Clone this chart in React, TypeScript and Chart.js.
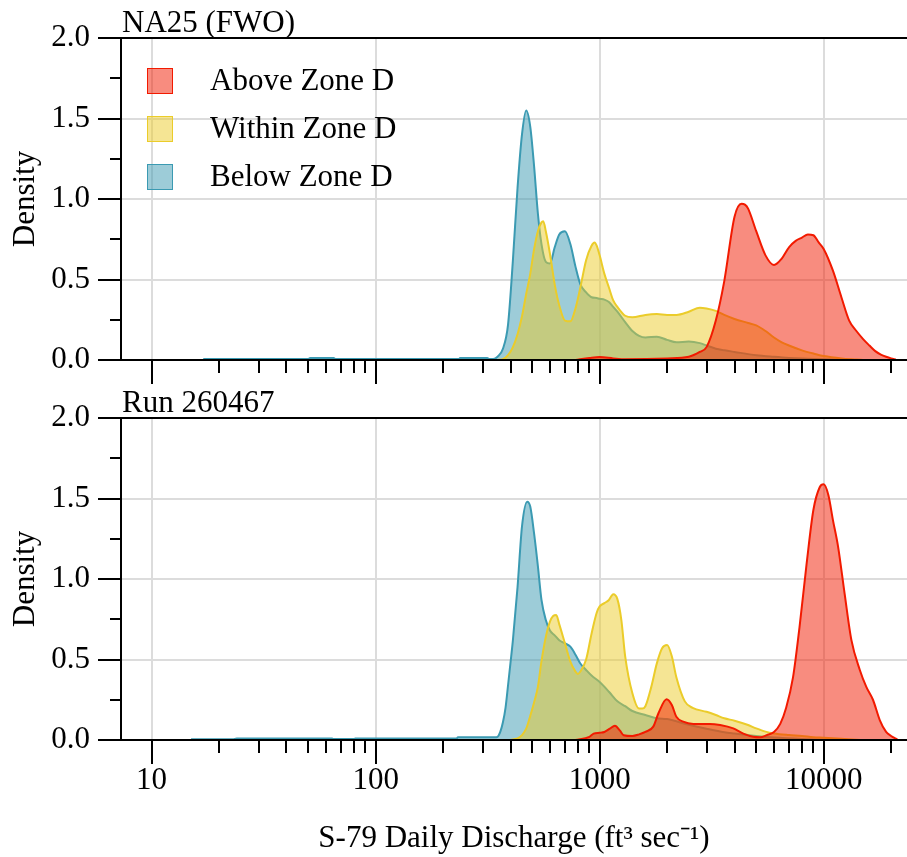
import React, { useEffect, useRef } from "react";
import { Chart, registerables } from "chart.js";

Chart.register(...registerables);

// ---------------- data ----------------
const seriesLabels = ["Above Zone D", "Within Zone D", "Below Zone D"];
const lineColors = ["#F21A00", "#EBCC2A", "#3B9AB2"];
const fillColors = ["rgba(242,26,0,0.5)", "rgba(235,204,42,0.5)", "rgba(59,154,178,0.5)"];
const panelTitles = ["NA25 (FWO)", "Run 260467"];

const xTickValues = [
  10, 20, 30, 40, 50, 60, 70, 80, 90,
  100, 200, 300, 400, 500, 600, 700, 800, 900,
  1000, 2000, 3000, 4000, 5000, 6000, 7000, 8000, 9000,
  10000, 20000,
];
const yMajorTicks = [0, 0.5, 1, 1.5, 2];
const yMinorTicks = [0.25, 0.75, 1.25, 1.75];
const xMin = 7.3;
const xMax = 23550;

// NA25 (FWO)
const na25AboveQ = [780, 900, 1000, 1150, 1300, 2000, 2500, 2800, 3000, 3300, 3600, 4000, 4300, 4450, 4600, 5000, 5500, 6000, 6500, 7000, 7500, 8000, 8500, 9000, 9500, 10000, 11000, 12000, 13000, 14000, 15000, 16000, 17000, 18000, 19000, 20000, 21000];
const na25AboveD = [0, 0.012, 0.018, 0.01, 0.005, 0.01, 0.02, 0.05, 0.08, 0.245, 0.49, 0.89, 0.97, 0.965, 0.94, 0.8, 0.65, 0.59, 0.63, 0.7, 0.74, 0.76, 0.78, 0.775, 0.73, 0.69, 0.555, 0.39, 0.245, 0.18, 0.13, 0.09, 0.055, 0.034, 0.02, 0.01, 0.003];

const na25WithinQ = [350, 370, 390, 410, 430, 450, 470, 490, 510, 530, 550, 560, 575, 600, 630, 660, 700, 740, 780, 820, 870, 920, 950, 970, 1000, 1050, 1100, 1150, 1200, 1300, 1400, 1600, 1800, 2000, 2200, 2500, 2800, 3000, 3300, 3600, 4000, 4600, 5000, 5500, 6000, 6500, 7000, 8000, 9000, 10000, 12000, 14000, 15000];
const na25WithinD = [0, 0.005, 0.03, 0.08, 0.16, 0.27, 0.41, 0.535, 0.69, 0.8, 0.855, 0.862, 0.8, 0.66, 0.47, 0.34, 0.245, 0.24, 0.32, 0.45, 0.62, 0.71, 0.73, 0.71, 0.65, 0.535, 0.45, 0.37, 0.33, 0.275, 0.265, 0.28, 0.285, 0.28, 0.28, 0.3, 0.325, 0.32, 0.305, 0.28, 0.255, 0.23, 0.215, 0.18, 0.14, 0.11, 0.09, 0.06, 0.04, 0.025, 0.01, 0.003, 0];

const na25BelowQ = [17, 50, 51, 65, 66, 236, 238, 315, 322, 335, 350, 370, 390, 410, 430, 450, 470, 490, 510, 530, 550, 575, 600, 630, 660, 700, 740, 780, 820, 870, 920, 970, 1000, 1050, 1100, 1150, 1200, 1300, 1400, 1500, 1600, 1800, 2000, 2200, 2500, 2800, 3000, 3300, 3600, 4000, 5000, 6000, 7000, 8000, 10000, 13000];
const na25BelowD = [0.006, 0.006, 0.013, 0.013, 0.006, 0.006, 0.012, 0.012, 0.006, 0.006, 0.02, 0.07, 0.22, 0.62, 1.07, 1.4, 1.55, 1.45, 1.2, 0.91, 0.72, 0.61, 0.6, 0.7, 0.78, 0.8, 0.72, 0.58, 0.47, 0.42, 0.39, 0.385, 0.38, 0.375, 0.36, 0.33, 0.3, 0.235, 0.18, 0.15, 0.14, 0.145, 0.125, 0.11, 0.115, 0.105, 0.09, 0.07, 0.06, 0.05, 0.03, 0.02, 0.013, 0.009, 0.005, 0];

// Run 260467
const runAboveQ = [780, 900, 940, 1000, 1050, 1110, 1170, 1230, 1280, 1400, 1500, 1600, 1735, 1830, 1990, 2100, 2200, 2360, 2620, 3100, 3450, 3950, 4380, 4850, 5200, 5570, 6000, 6400, 6800, 7300, 7800, 8400, 9000, 9600, 10000, 10500, 11000, 11600, 12400, 13300, 14500, 15500, 16600, 17800, 19000, 20000, 21000, 21500];
const runAboveD = [0, 0.02, 0.04, 0.045, 0.05, 0.07, 0.088, 0.06, 0.03, 0.025, 0.035, 0.05, 0.083, 0.166, 0.253, 0.217, 0.145, 0.114, 0.1, 0.1, 0.093, 0.072, 0.04, 0.02, 0.017, 0.03, 0.05, 0.1, 0.2, 0.39, 0.7, 1.1, 1.43, 1.57, 1.588, 1.52, 1.366, 1.2, 0.91, 0.62, 0.435, 0.33, 0.25, 0.124, 0.05, 0.025, 0.008, 0];

const runWithinQ = [400, 430, 450, 470, 490, 510, 530, 550, 575, 600, 620, 640, 660, 700, 740, 780, 800, 820, 870, 920, 970, 1000, 1050, 1100, 1150, 1200, 1250, 1300, 1400, 1500, 1550, 1600, 1700, 1800, 1900, 2000, 2100, 2200, 2400, 2600, 3000, 3300, 3600, 4000, 4600, 5000, 5500, 6000, 7000, 8000, 9000, 10000, 12000, 14000, 15000];
const runWithinD = [0, 0.01, 0.03, 0.07, 0.15, 0.235, 0.33, 0.49, 0.64, 0.735, 0.77, 0.776, 0.72, 0.6, 0.487, 0.425, 0.41, 0.425, 0.5, 0.66, 0.79, 0.83, 0.85, 0.87, 0.905, 0.875, 0.745, 0.52, 0.29, 0.195, 0.195, 0.21, 0.33, 0.476, 0.57, 0.59, 0.52, 0.39, 0.24, 0.2, 0.175, 0.155, 0.135, 0.12, 0.093, 0.072, 0.052, 0.041, 0.031, 0.025, 0.017, 0.014, 0.008, 0.002, 0];

const runBelowQ = [15, 23, 24, 64, 65, 80, 81, 230, 233, 340, 350, 360, 370, 380, 390, 400, 410, 430, 450, 475, 490, 510, 530, 550, 575, 600, 630, 660, 700, 740, 780, 820, 870, 920, 1000, 1100, 1200, 1300, 1400, 1600, 1800, 2000, 2500, 3000, 3600, 4000, 5000, 6000, 8000, 10000, 12000];
const runBelowD = [0.005, 0.005, 0.009, 0.009, 0.006, 0.006, 0.009, 0.009, 0.017, 0.017, 0.02, 0.05, 0.11, 0.2, 0.34, 0.48, 0.62, 0.95, 1.325, 1.48, 1.45, 1.28, 1.08, 0.87, 0.745, 0.68, 0.65, 0.62, 0.6, 0.58, 0.53, 0.475, 0.435, 0.4, 0.36, 0.3, 0.24, 0.21, 0.18, 0.155, 0.135, 0.13, 0.095, 0.07, 0.048, 0.04, 0.025, 0.015, 0.006, 0.002, 0];

// ---------------- styling ----------------
const FONT_FAMILY = '"Liberation Serif", "Times New Roman", Times, serif';
const FONT_SIZE = 31;
const GRID_COLOR = "#dcdcdc";
const CANVAS_W = 907;

const isDecade = (v: number) => {
  const l = Math.log10(v);
  return Math.abs(l - Math.round(l)) < 1e-9;
};

const decorPlugin = {
  id: "decor",
  afterDraw(chart: any, _args: any, opts: any) {
    const { ctx, chartArea: a, scales } = chart;
    const x = scales.x;
    const y = scales.y;
    ctx.save();
    ctx.strokeStyle = "#000";
    ctx.lineWidth = 2;
    ctx.lineCap = "butt";
    const line = (x1: number, y1: number, x2: number, y2: number) => {
      ctx.beginPath();
      ctx.moveTo(x1, y1);
      ctx.lineTo(x2, y2);
      ctx.stroke();
    };
    // top frame line
    line(a.left, a.top, a.right, a.top);
    // x tick marks
    xTickValues.forEach((v) => {
      const px = Math.round(x.getPixelForValue(v));
      line(px, a.bottom, px, a.bottom + (isDecade(v) ? 24 : 13));
    });
    // y tick marks
    yMajorTicks.forEach((v) => {
      const py = Math.round(y.getPixelForValue(v));
      line(a.left - 23, py, a.left, py);
    });
    yMinorTicks.forEach((v) => {
      const py = Math.round(y.getPixelForValue(v));
      line(a.left - 11, py, a.left, py);
    });
    // panel title
    ctx.fillStyle = "#000";
    ctx.font = `${FONT_SIZE}px ${FONT_FAMILY}`;
    ctx.textAlign = "left";
    ctx.textBaseline = "alphabetic";
    ctx.fillText(opts.title, a.left + 1, a.top - 6);
    // legend
    if (opts.legend) {
      seriesLabels.forEach((lab, i) => {
        const sx = a.left + 26;
        const sy = a.top + 30 + i * 48;
        ctx.fillStyle = fillColors[i];
        ctx.fillRect(sx, sy, 26, 26);
        ctx.strokeStyle = lineColors[i];
        ctx.lineWidth = 1;
        ctx.strokeRect(sx + 0.5, sy + 0.5, 25, 25);
        ctx.fillStyle = "#000";
        ctx.textBaseline = "middle";
        ctx.fillText(lab, a.left + 89, sy + 14);
      });
    }
    ctx.restore();
  },
};

function buildConfig(
  title: string,
  qs: number[][],
  ds: number[][],
  padTop: number,
  xAxisHeight: number,
  showXLabels: boolean,
  showLegend: boolean
): any {
  const font = { family: FONT_FAMILY, size: FONT_SIZE, lineHeight: 1.2 };
  const datasets = qs.map((q, i) => ({
    label: seriesLabels[i],
    data: q.map((v, j) => ({ x: v, y: ds[i][j] })),
    borderColor: lineColors[i],
    backgroundColor: fillColors[i],
    borderWidth: 2,
    pointRadius: 0,
    fill: "origin",
    cubicInterpolationMode: "monotone",
  }));
  return {
    type: "line",
    data: { datasets },
    plugins: [decorPlugin],
    options: {
      responsive: false,
      animation: false,
      devicePixelRatio: 1,
      layout: { padding: { top: padTop, left: 0, right: 0, bottom: 0 } },
      plugins: {
        legend: { display: false },
        tooltip: { enabled: false },
        decor: { title, legend: showLegend },
      },
      scales: {
        x: {
          type: "logarithmic",
          min: xMin,
          max: xMax,
          afterBuildTicks: (s: any) => {
            s.ticks = xTickValues.map((v) => ({ value: v, major: isDecade(v) }));
          },
          afterFit: (s: any) => {
            s.height = xAxisHeight;
            s.paddingLeft = 0;
            s.paddingRight = 0;
            s.paddingTop = 0;
            s.paddingBottom = 0;
          },
          grid: {
            color: (c: any) => (c.tick && isDecade(c.tick.value) ? GRID_COLOR : "rgba(0,0,0,0)"),
            lineWidth: 2,
            drawTicks: false,
          },
          border: { display: true, color: "#000", width: 2, z: 1 },
          ticks: {
            display: showXLabels,
            autoSkip: false,
            maxRotation: 0,
            minRotation: 0,
            padding: 22,
            color: "#000",
            font,
            callback: (v: any) => (isDecade(Number(v)) ? String(Number(v)) : ""),
          },
          title: {
            display: showXLabels,
            text: "S-79 Daily Discharge (ft³ sec⁻¹)",
            color: "#000",
            font,
            padding: { top: 0, bottom: 0 },
          },
        },
        y: {
          type: "linear",
          min: 0,
          max: 2,
          afterFit: (s: any) => {
            s.width = 121;
            s.paddingLeft = 0;
            s.paddingRight = 0;
            s.paddingTop = 0;
            s.paddingBottom = 0;
          },
          grid: {
            color: (c: any) =>
              c.tick && c.tick.value > 0.01 && c.tick.value < 1.99 ? GRID_COLOR : "rgba(0,0,0,0)",
            lineWidth: 2,
            drawTicks: false,
          },
          border: { display: true, color: "#000", width: 2, z: 1 },
          ticks: {
            stepSize: 0.5,
            padding: 31,
            color: "#000",
            font,
            callback: (v: any) => Number(v).toFixed(1),
          },
          title: {
            display: true,
            text: "Density",
            color: "#000",
            font,
            padding: { top: 7, bottom: 0 },
          },
        },
      },
    },
  };
}

export default function App() {
  const topRef = useRef<HTMLCanvasElement | null>(null);
  const botRef = useRef<HTMLCanvasElement | null>(null);

  useEffect(() => {
    const charts: Chart[] = [];
    if (topRef.current) {
      charts.push(
        new Chart(
          topRef.current,
          buildConfig(
            panelTitles[0],
            [na25AboveQ, na25WithinQ, na25BelowQ],
            [na25AboveD, na25WithinD, na25BelowD],
            38,
            26,
            false,
            true
          )
        )
      );
    }
    if (botRef.current) {
      charts.push(
        new Chart(
          botRef.current,
          buildConfig(
            panelTitles[1],
            [runAboveQ, runWithinQ, runBelowQ],
            [runAboveD, runWithinD, runBelowD],
            32,
            117,
            true,
            false
          )
        )
      );
    }
    return () => charts.forEach((c) => c.destroy());
  }, []);

  return (
    <div style={{ position: "absolute", left: 0, top: 0, width: CANVAS_W, height: 857, background: "#fff" }}>
      <canvas
        ref={topRef}
        width={CANVAS_W}
        height={386}
        style={{ position: "absolute", left: 0, top: 0, width: CANVAS_W, height: 386, display: "block" }}
      />
      <canvas
        ref={botRef}
        width={CANVAS_W}
        height={471}
        style={{ position: "absolute", left: 0, top: 386, width: CANVAS_W, height: 471, display: "block" }}
      />
    </div>
  );
}
